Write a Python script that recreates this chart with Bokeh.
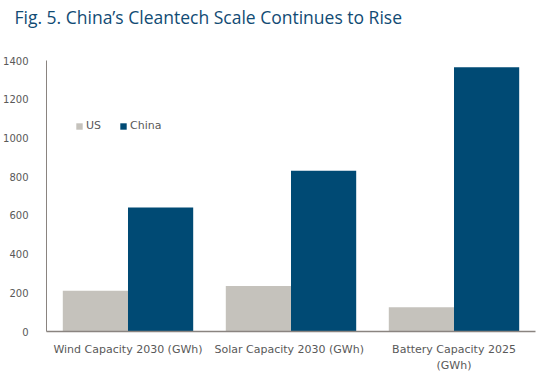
from bokeh.plotting import figure
from bokeh.models import FactorRange, Legend, LegendItem, ColumnDataSource, Title
from bokeh.transform import dodge
from bokeh.embed import file_html
from bokeh.resources import INLINE

title_text = "Fig. 5. China\u2019s Cleantech Scale Continues to Rise"
categories = ["Wind Capacity 2030 (GWh)", "Solar Capacity 2030  (GWh)", "Battery Capacity 2025\n(GWh)"]
us_values = [210, 235, 125]
china_values = [640, 830, 1365]
y_ticks = [0, 200, 400, 600, 800, 1000, 1200, 1400]

source = ColumnDataSource(dict(cat=categories, us=us_values, china=china_values))

p = figure(frame_width=489, frame_height=271, output_backend="svg", toolbar_location=None,
           x_range=FactorRange(*categories), y_range=(0, 1400), title=None)

spacer = Title(text=" ", text_font_size="1px", standoff=27, text_line_height=1.0)
p.add_layout(spacer, "above")
head = Title(text=title_text, text_font="Open Sans", text_font_size="17.5px",
             text_font_style="normal", text_color="#114b74", offset=-32, standoff=4,
             vertical_align="bottom", text_line_height=1.0)
p.add_layout(head, "above")

p.min_border_left = 44
p.min_border_right = 10
p.min_border_top = 0
p.min_border_bottom = 30
p.outline_line_color = None
p.xgrid.grid_line_color = None
p.ygrid.grid_line_color = None

r1 = p.vbar(x=dodge("cat", -0.2, range=p.x_range), top="us", width=0.4, source=source,
            fill_color="#c5c2bc", line_color=None)
r2 = p.vbar(x=dodge("cat", 0.2, range=p.x_range), top="china", width=0.4, source=source,
            fill_color="#004a74", line_color=None)

for ax in (p.xaxis[0], p.yaxis[0]):
    ax.axis_line_color = "#8a8480"
    ax.major_tick_line_color = None
    ax.minor_tick_line_color = None
    ax.major_label_text_font = "DejaVu Sans"
    ax.major_label_text_color = "#595959"
p.xaxis.major_label_text_font_size = "11px"
p.xaxis.major_label_text_line_height = 1.25
p.yaxis.major_label_text_font_size = "10px"
p.yaxis.ticker = y_ticks
p.yaxis.major_label_standoff = 12
p.xaxis.major_label_standoff = 5
p.xaxis.axis_line_width = 1.5

legend = Legend(items=[LegendItem(label="US", renderers=[r1]), LegendItem(label="China", renderers=[r2])],
                orientation="horizontal", location=(29, 199))
legend.border_line_color = None
legend.background_fill_alpha = 0
legend.glyph_width = 8
legend.glyph_height = 8
legend.label_text_font = "DejaVu Sans"
legend.label_text_font_size = "11px"
legend.label_text_color = "#595959"
legend.spacing = 13
legend.label_standoff = 3
p.add_layout(legend, "center")

open("out.html", "w").write(file_html(p, INLINE))
